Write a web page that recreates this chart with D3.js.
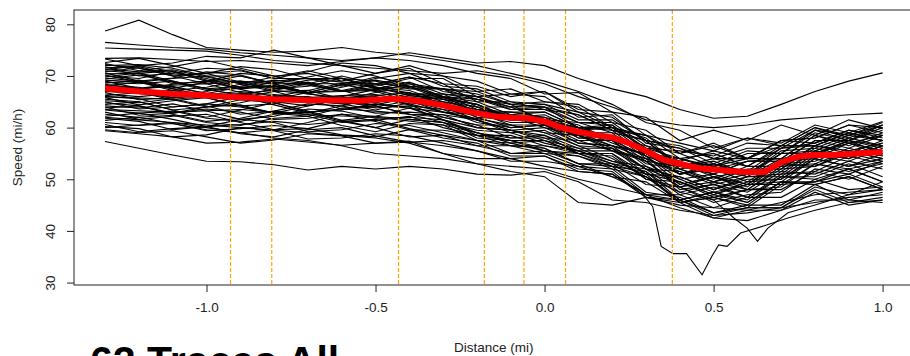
<!DOCTYPE html>
<html>
<head>
<meta charset="utf-8">
<script src="https://cdn.jsdelivr.net/npm/d3@7"></script>
<style>
  html, body { margin: 0; padding: 0; background: #fff; overflow: hidden; }
  svg { display: block; }
  text { font-family: "Liberation Sans", Arial, Helvetica, sans-serif; }
</style>
</head>
<body>
<svg id="chart" width="910" height="356"></svg>
<script>
// ---------------- DATA ----------------
const titleText = "62 Traces All";
const xLabel = "Distance (mi)";
const yLabel = "Speed (mi/h)";
const xTicks = [-1.0, -0.5, 0.0, 0.5, 1.0];
const xTickLabels = ["-1.0", "-0.5", "0.0", "0.5", "1.0"];
const yTicks = [30, 40, 50, 60, 70, 80];
const markerDistances = [-0.929, -0.807, -0.432, -0.178, -0.061, 0.062, 0.378];

// common distance grid for the traces (mi)
const distance = [-1.3,-1.2,-1.1,-1.0,-0.9,-0.8,-0.7,-0.6,-0.5,-0.4,-0.3,-0.2,-0.1,0.0,0.1,0.2,0.3,0.4,0.5,0.6,0.7,0.8,0.9,1.0];

// speed traces (mi/h) on the grid above
const traceSpeeds = [
  [78.7,80.8,78.0,75.5,75.0,74.6,74.8,75.5,74.6,74.0,73.0,72.0,70.5,69.0,67.0,64.5,61.0,59.5,56.0,58.0,56.5,60.0,58.0,60.5],
  [76.5,76.0,75.5,75.2,74.5,74.0,73.5,73.0,73.5,74.5,73.5,72.5,72.8,72.0,69.5,67.5,66.0,63.5,61.8,62.2,64.5,67.0,69.0,70.6],
  [75.4,75.2,75.0,74.8,74.0,73.0,72.5,72.0,71.5,71.0,70.5,71.0,70.0,68.5,66.0,64.0,61.5,60.5,60.0,60.5,61.5,62.0,62.5,62.8],
  [73.4,73.5,73.2,72.8,73.0,72.5,72.0,72.8,73.5,73.0,72.0,70.5,69.5,66.5,66.8,63.0,62.0,57.5,59.5,57.5,60.5,58.5,61.5,59.8],
  [73.3,72.0,72.5,73.8,73.5,75.0,73.5,72.0,70.5,71.5,68.5,68.0,66.0,67.0,63.5,63.0,58.5,57.0,55.5,58.0,57.0,60.5,59.0,61.2],
  [72.6,73.4,72.0,70.5,71.0,69.5,70.8,72.5,72.0,70.5,70.0,67.0,67.5,65.0,64.5,61.0,59.5,55.0,57.0,54.0,57.5,58.0,60.5,59.0],
  [72.4,71.0,71.8,73.0,71.5,70.0,70.5,69.0,70.5,72.0,70.0,69.0,66.5,66.0,62.0,62.5,57.0,56.0,53.0,55.5,55.0,59.5,57.5,60.5],
  [72.2,71.5,70.0,70.5,71.8,71.2,69.5,69.5,68.0,69.5,69.5,66.0,66.5,67.0,63.0,62.0,57.5,56.5,54.0,54.0,56.5,56.5,59.0,57.5],
  [72.0,72.2,71.5,70.0,70.0,68.5,69.8,71.0,70.0,68.0,67.5,66.5,64.5,65.0,64.0,60.0,58.0,52.5,53.5,51.0,55.5,56.0,58.5,57.5],
  [71.8,70.0,70.5,71.5,71.2,69.5,69.5,68.0,69.5,70.5,68.0,67.5,65.0,64.5,63.0,60.0,58.5,55.0,56.5,54.0,57.5,58.0,60.5,60.0],
  [71.6,71.8,70.2,70.5,68.8,69.0,69.5,68.8,68.5,69.8,68.5,65.0,65.0,63.5,62.5,59.5,57.5,52.0,53.0,50.5,54.0,55.0,57.5,56.5],
  [71.4,70.8,71.2,69.8,68.5,69.8,71.0,69.5,67.5,68.0,67.5,65.5,63.5,64.0,61.0,60.5,55.5,53.0,50.5,51.5,52.0,56.5,55.5,57.0],
  [71.2,72.0,70.8,69.0,69.0,67.5,68.0,69.5,69.0,67.5,67.5,67.0,64.5,64.0,62.5,59.5,58.5,54.0,55.0,52.5,56.0,57.0,59.5,58.5],
  [71.0,70.5,68.5,69.0,70.5,70.0,68.5,68.5,67.0,68.5,67.5,64.0,64.0,64.5,61.5,61.5,57.5,56.0,54.0,56.0,56.0,59.5,58.5,60.5],
  [70.8,71.6,70.0,68.5,68.8,67.2,68.5,70.0,68.5,66.5,66.5,66.0,64.0,64.0,60.0,59.5,54.5,52.0,49.5,51.0,51.5,55.5,54.5,56.5],
  [70.6,69.0,69.6,70.8,70.2,68.5,68.5,67.0,68.3,69.8,67.0,66.0,63.5,63.5,61.0,61.0,56.5,55.0,52.5,54.0,54.0,58.5,57.0,58.5],
  [70.4,70.5,71.0,69.2,67.5,68.0,66.8,68.2,69.8,68.5,66.0,65.0,62.5,63.0,60.0,60.5,56.0,54.0,52.0,53.5,53.5,57.5,57.5,59.5],
  [70.2,68.8,69.5,70.0,68.5,67.8,69.2,69.6,67.8,66.5,66.5,65.5,64.0,61.5,61.0,59.0,57.5,52.5,53.0,51.5,56.0,56.5,59.0,57.5],
  [70.0,69.5,70.8,69.5,67.8,68.0,66.5,67.8,69.2,68.0,65.8,64.5,62.0,62.0,59.0,59.0,54.0,51.5,49.0,50.5,50.5,55.0,54.0,56.5],
  [69.8,70.6,69.0,67.5,68.0,69.2,68.5,67.0,67.5,68.8,66.5,63.5,63.0,63.0,60.0,60.0,55.0,54.0,52.5,55.0,55.0,59.0,57.5,60.0],
  [69.6,69.0,67.6,68.8,70.0,68.5,66.8,67.2,68.5,68.0,66.0,65.5,64.5,61.0,59.5,57.0,54.5,49.0,50.5,48.0,52.0,52.5,55.5,54.0],
  [69.4,70.2,68.8,67.2,67.6,68.8,68.2,67.0,67.2,65.8,65.5,64.0,62.0,62.5,59.5,60.0,56.0,55.5,54.5,57.0,56.5,60.0,58.5,61.0],
  [69.2,68.8,67.2,67.8,69.0,68.4,66.8,67.0,67.8,67.2,65.0,64.0,61.5,61.5,60.0,57.5,56.0,51.0,52.0,49.5,53.5,54.0,57.0,55.5],
  [69.0,67.6,68.4,69.0,67.4,66.0,67.2,68.6,67.8,66.2,65.8,64.5,61.5,61.0,59.0,56.5,55.0,51.0,52.0,50.5,55.0,55.5,58.0,56.5],
  [68.8,68.5,69.0,67.5,66.2,67.5,68.8,67.2,65.5,66.5,66.0,63.0,63.0,62.0,60.5,57.5,54.5,50.0,51.0,49.0,53.5,54.5,57.5,55.0],
  [68.6,69.2,67.8,66.6,67.8,68.2,66.6,65.4,66.8,67.8,65.5,64.5,62.0,61.5,58.0,57.5,52.5,50.0,47.5,49.0,49.5,54.0,52.5,55.0],
  [68.4,67.5,68.2,68.5,66.8,65.5,66.8,68.4,67.0,65.2,65.0,63.5,61.5,61.5,60.0,58.0,56.0,52.5,54.0,52.5,56.5,56.5,59.0,57.5],
  [68.2,67.8,66.2,67.0,68.4,67.0,65.4,66.0,67.4,66.8,64.5,63.5,62.5,60.5,58.5,56.0,53.5,48.5,49.5,48.0,52.5,53.0,55.5,54.0],
  [68.1,68.8,67.5,66.2,66.6,67.2,66.5,65.8,66.2,66.8,64.5,62.0,61.5,61.5,58.0,58.5,55.0,53.5,51.0,53.5,54.0,58.5,56.5,59.0],
  [68.0,67.5,68.0,66.6,65.8,67.0,67.2,65.6,64.8,66.2,65.5,63.0,60.5,60.5,58.5,55.5,53.5,49.0,50.5,48.5,53.0,53.5,56.0,54.5],
  [67.6,67.2,65.8,66.4,67.0,66.4,65.8,66.2,66.4,65.2,63.5,62.5,62.0,60.0,58.5,58.0,53.5,52.5,51.0,53.5,53.5,57.5,56.0,58.5],
  [67.3,66.8,67.2,66.0,65.4,65.8,66.0,64.8,64.4,65.8,65.0,62.0,60.0,60.5,57.0,56.5,54.0,48.0,49.0,46.5,51.0,51.5,54.5,53.0],
  [67.0,66.6,65.8,66.2,66.4,65.0,64.2,65.6,66.0,64.6,63.0,62.5,61.0,61.0,60.0,58.0,56.5,53.5,55.5,54.0,57.5,57.0,59.5,58.0],
  [66.8,65.4,65.8,66.4,65.8,65.0,65.2,64.6,63.4,64.8,64.0,61.5,59.5,60.0,57.0,56.5,52.0,49.5,46.5,48.0,48.5,53.0,52.0,53.5],
  [66.5,66.0,66.6,65.8,64.2,64.6,65.8,65.2,63.8,64.2,63.5,61.0,60.0,60.5,57.5,57.5,53.0,52.0,50.0,52.5,52.5,56.5,55.0,57.5],
  [66.2,66.8,65.4,64.0,64.8,66.2,65.4,63.6,64.0,65.2,63.0,61.5,59.0,59.5,56.5,56.0,51.0,49.5,47.0,49.5,50.0,54.5,53.5,56.0],
  [66.0,65.6,64.0,64.6,66.0,64.4,62.8,64.2,65.8,64.4,62.0,60.5,60.5,59.0,58.5,56.5,55.0,51.0,53.0,51.0,55.0,55.0,57.0,54.5],
  [65.8,64.4,65.2,65.8,64.2,62.8,64.2,65.8,64.2,62.6,62.5,61.5,59.5,58.5,55.0,55.0,50.0,48.5,45.5,47.0,47.5,52.0,51.0,53.5],
  [65.5,65.0,63.4,64.0,65.4,64.8,63.0,63.4,64.6,64.0,61.5,60.0,59.5,58.0,57.5,55.5,54.0,51.0,52.5,51.0,55.0,55.0,57.5,56.0],
  [65.2,64.8,65.6,64.2,62.6,63.2,64.6,64.2,62.8,63.0,62.5,60.0,59.5,57.5,56.0,53.5,51.5,46.0,47.5,46.0,50.5,50.5,53.0,50.5],
  [65.0,63.6,64.0,64.6,64.0,62.8,63.0,63.6,63.2,62.6,62.0,60.5,58.0,58.5,56.0,56.0,52.0,50.5,48.0,50.5,51.0,55.5,54.0,56.5],
  [64.8,64.2,62.8,64.0,64.4,62.8,62.2,63.8,64.2,62.6,61.0,59.5,59.0,57.0,55.5,53.0,51.0,45.5,46.5,44.5,49.0,49.5,52.0,49.5],
  [64.5,65.0,63.4,62.0,63.4,64.8,63.2,61.4,62.2,63.8,61.5,59.0,58.0,58.0,55.5,55.5,52.0,51.5,49.5,52.0,52.0,56.0,54.5,57.0],
  [64.2,63.8,64.6,63.2,61.6,62.2,63.6,63.2,61.8,62.0,61.5,58.5,58.5,56.5,55.0,52.5,50.5,45.5,46.5,45.0,49.5,49.5,51.0,48.5],
  [64.0,62.4,62.8,63.6,63.0,61.6,61.8,62.6,62.2,61.6,61.0,59.0,57.0,57.5,55.0,55.0,51.0,50.5,48.0,50.0,50.0,54.0,52.5,54.0],
  [63.8,64.2,62.6,61.2,61.8,63.2,62.6,61.0,61.4,62.2,60.0,58.5,57.5,55.5,54.5,52.0,50.5,46.0,47.5,45.5,49.5,49.0,50.5,48.0],
  [63.4,62.8,63.2,61.8,61.2,62.6,63.0,61.2,60.0,61.6,61.0,58.0,57.5,57.5,55.0,54.5,50.0,49.5,47.0,49.0,49.0,53.0,51.5,53.0],
  [63.0,61.6,62.2,62.6,61.0,59.6,61.0,62.6,61.2,59.6,59.5,58.5,56.5,56.5,55.5,53.5,52.5,48.5,50.5,49.0,53.0,52.5,55.0,53.5],
  [62.6,62.0,62.4,61.0,60.4,61.8,62.2,60.4,59.2,60.8,60.5,57.5,56.5,56.0,53.0,52.5,47.5,46.5,43.5,45.0,45.0,49.0,46.0,47.5],
  [62.2,62.8,61.6,60.2,60.6,61.2,60.6,61.2,61.6,59.8,58.5,57.5,57.0,55.5,55.0,53.0,52.0,47.5,49.0,47.5,51.5,51.0,53.5,52.0],
  [61.8,61.2,59.6,60.2,61.6,61.0,59.2,59.6,60.8,60.4,59.0,57.5,55.0,55.0,52.5,52.0,47.0,46.0,43.5,44.5,44.5,48.0,45.5,46.5],
  [61.4,62.0,60.8,59.4,59.8,60.4,59.8,61.4,60.0,58.2,58.5,56.5,56.5,55.0,54.5,52.5,51.5,47.0,48.5,46.5,50.5,50.0,52.0,49.5],
  [61.0,60.4,60.8,59.6,59.0,59.6,59.8,58.6,58.2,59.6,58.0,57.0,54.5,54.5,52.0,51.5,46.5,45.5,42.5,44.0,44.0,47.5,45.0,46.0],
  [60.6,59.2,59.8,60.2,58.8,58.2,59.6,60.0,58.4,57.2,57.5,56.5,55.0,55.5,53.0,53.0,49.0,48.5,46.0,48.0,48.0,51.5,50.0,52.5],
  [60.2,59.8,58.2,58.6,60.0,59.4,57.8,58.0,58.8,58.4,57.0,55.5,54.0,54.5,51.5,51.0,46.5,46.0,43.0,44.5,44.5,48.5,47.0,49.5],
  [59.6,59.0,59.4,58.2,57.0,57.6,58.8,58.4,57.0,57.2,56.5,55.5,53.5,53.5,52.5,50.5,49.5,45.5,47.0,45.5,49.5,49.0,50.5,48.0],
  [59.4,58.8,58.2,57.0,57.2,57.8,57.2,56.6,57.0,57.4,55.0,54.0,54.0,52.5,51.5,51.0,47.0,47.0,44.5,46.5,46.5,50.0,48.0,48.5],
  [57.3,56.0,54.7,53.5,53.4,52.8,51.8,52.5,52.0,52.5,52.0,51.0,50.8,51.5,49.5,46.0,45.5,44.0,43.0,43.5,44.5,45.5,46.5,47.0],
  [62.0,61.5,61.0,60.5,60.0,59.5,59.0,58.5,58.0,57.0,55.0,53.0,51.5,50.5,45.5,45.0,46.5,45.0,44.5,44.0,45.5,47.0,47.5,48.0],
  [60.0,60.5,61.0,60.0,59.0,58.0,57.5,56.5,55.0,54.5,54.0,53.0,52.5,52.0,50.0,48.5,47.0,44.5,42.5,42.0,44.0,46.0,46.0,45.5]
];

// two traces with sharp dips, read on their own distance points
const dipDistance = [-1.3,-1.1,-0.9,-0.7,-0.5,-0.3,-0.1,0.0,0.1,0.2,0.28,0.32,0.345,0.38,0.42,0.466,0.495,0.515,0.54,0.58,0.65,0.72,0.8,0.9,1.0];
const dipSpeed    = [63.5,63.0,63.5,62.5,62.0,60.5,57.5,56.0,53.0,50.5,48.0,44.7,37.0,35.6,35.6,31.5,35.1,37.3,37.0,39.6,41.0,42.5,44.0,45.5,46.0];
const dip2Distance = [-1.3,-1.1,-0.9,-0.7,-0.5,-0.3,-0.1,0.0,0.1,0.2,0.3,0.4,0.5,0.56,0.6,0.63,0.66,0.72,0.8,0.9,1.0];
const dip2Speed    = [66.0,65.5,66.5,65.0,64.5,63.0,60.5,59.0,56.5,54.0,50.5,47.5,46.0,42.5,40.5,38.0,40.5,43.5,45.0,47.0,48.0];

// mean speed (red)
const meanDistance = [-1.30,-1.25,-1.20,-1.15,-1.10,-1.05,-1.00,-0.95,-0.90,-0.85,-0.80,-0.75,-0.70,-0.65,-0.60,-0.55,-0.50,-0.45,-0.40,-0.35,-0.30,-0.25,-0.20,-0.15,-0.10,-0.05,0.00,0.05,0.10,0.15,0.20,0.25,0.30,0.35,0.40,0.45,0.50,0.55,0.60,0.65,0.70,0.75,0.80,0.85,0.90,0.95,1.00];
const meanSpeed    = [67.6,67.3,67.0,66.8,66.5,66.4,66.2,66.0,65.9,65.7,65.5,65.4,65.3,65.3,65.3,65.2,65.4,65.6,65.4,64.9,64.3,63.5,62.8,62.2,61.9,61.8,61.2,60.0,59.2,58.6,58.1,57.0,55.5,53.8,53.0,52.2,51.9,51.6,51.4,51.4,53.3,54.4,54.7,54.7,54.9,55.1,55.3];

// ---------------- DRAW ----------------
const svg = d3.select("#chart");
svg.append("rect").attr("width", 910).attr("height", 356).attr("fill", "#fff");

const plot = { left: 74, right: 913.7, top: 10, bottom: 285 };
const x = d3.scaleLinear().domain([-1.392, 1.092]).range([plot.left, plot.right]);
const y = d3.scaleLinear().domain([29.53, 82.77]).range([plot.bottom, plot.top]);

svg.append("defs").append("clipPath").attr("id", "clip")
  .append("rect").attr("x", plot.left).attr("y", plot.top)
  .attr("width", plot.right - plot.left).attr("height", plot.bottom - plot.top);

const gTraces = svg.append("g").attr("clip-path", "url(#clip)");
const line = d3.line().curve(d3.curveLinear);

traceSpeeds.forEach(s => {
  gTraces.append("path")
    .attr("d", line(distance.map((d, i) => [x(d), y(s[i])])))
    .attr("fill", "none").attr("stroke", "#000").attr("stroke-width", 1.1);
});
[[dipDistance, dipSpeed], [dip2Distance, dip2Speed]].forEach(([dx, sy]) => {
  gTraces.append("path")
    .attr("d", line(dx.map((d, i) => [x(d), y(sy[i])])))
    .attr("fill", "none").attr("stroke", "#000").attr("stroke-width", 1.1);
});

// orange dashed markers
gTraces.selectAll("line.marker").data(markerDistances).enter().append("line")
  .attr("class", "marker")
  .attr("x1", d => x(d)).attr("x2", d => x(d))
  .attr("y1", plot.top).attr("y2", plot.bottom)
  .attr("stroke", "#FFA500").attr("stroke-width", 1.2)
  .attr("stroke-dasharray", "4,2");

// mean line
gTraces.append("path")
  .attr("d", line(meanDistance.map((d, i) => [x(d), y(meanSpeed[i])])))
  .attr("fill", "none").attr("stroke", "#FF0000").attr("stroke-width", 6)
  .attr("stroke-linejoin", "round");

// box
svg.append("rect")
  .attr("x", plot.left).attr("y", plot.top)
  .attr("width", plot.right - plot.left).attr("height", plot.bottom - plot.top)
  .attr("fill", "none").attr("stroke", "#222").attr("stroke-width", 1);

// axes
const xAxis = d3.axisBottom(x).tickValues(xTicks).tickSize(7).tickPadding(10)
  .tickFormat((d, i) => xTickLabels[i]);
const gx = svg.append("g").attr("transform", `translate(0,${plot.bottom})`).call(xAxis);
gx.select(".domain").remove();
gx.selectAll("line").attr("stroke", "#222");
gx.selectAll("text").attr("font-size", "13.5px").attr("fill", "#222")
  .attr("font-family", "'Liberation Sans', Arial, sans-serif").attr("dy", "0.71em");

const yAxis = d3.axisLeft(y).tickValues(yTicks).tickSize(7);
const gy = svg.append("g").attr("transform", `translate(${plot.left},0)`).call(yAxis);
gy.select(".domain").remove();
gy.selectAll("line").attr("stroke", "#222");
gy.selectAll("text")
  .attr("font-size", "13.5px").attr("fill", "#222")
  .attr("font-family", "'Liberation Sans', Arial, sans-serif")
  .attr("transform", "rotate(-90)")
  .attr("x", 0).attr("y", -19).attr("dy", 0)
  .attr("text-anchor", "middle");

// axis titles
svg.append("text").attr("x", (plot.left + plot.right) / 2).attr("y", 352)
  .attr("text-anchor", "middle").attr("font-size", "13.5px").attr("fill", "#222")
  .text(xLabel);
svg.append("text")
  .attr("transform", `translate(21.5,${(plot.top + plot.bottom) / 2}) rotate(-90)`)
  .attr("text-anchor", "middle").attr("font-size", "13.5px").attr("fill", "#222")
  .text(yLabel);

// big title (partly cut off at bottom, as in the reference)
svg.append("text").attr("x", 90).attr("y", 374.5)
  .attr("font-size", "41px").attr("font-weight", "bold").attr("fill", "#000")
  .text(titleText);
</script>
</body>
</html>
